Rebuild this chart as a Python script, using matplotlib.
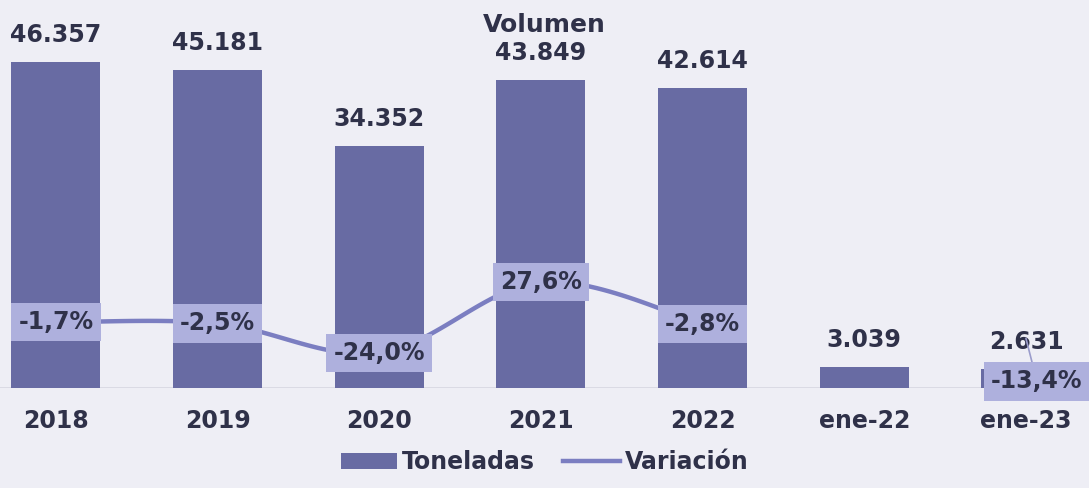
import numpy as np
import matplotlib.pyplot as plt
from matplotlib.patches import Patch
from matplotlib.lines import Line2D

categories = ["2018", "2019", "2020", "2021", "2022", "ene-22", "ene-23"]
toneladas = [46357, 45181, 34352, 43849, 42614, 3039, 2631]
variacion = [-1.7, -2.5, -24.0, 27.6, -2.8, np.nan, -13.4]

BG = "#EEEEF5"
BAR = "#686BA3"
LINE = "#7B7EC1"
BOX = "#AEB0DD"
TXT = "#2F3149"
FONT = "DejaVu Sans"


def fmt_int(v):
    return f"{v:,}".replace(",", ".")


def fmt_pct(v):
    return f"{v:.1f}%".replace(".", ",")


def smooth(xs, ys, n=30):
    # catmull-rom style curve like the smoothed line in the source chart
    xs = np.asarray(xs, float)
    ys = np.asarray(ys, float)
    px, py = [], []
    for i in range(len(xs) - 1):
        x0, y0 = (xs[i - 1], ys[i - 1]) if i > 0 else (xs[i], ys[i])
        x3, y3 = (xs[i + 2], ys[i + 2]) if i + 2 < len(xs) else (xs[i + 1], ys[i + 1])
        x1, y1, x2, y2 = xs[i], ys[i], xs[i + 1], ys[i + 1]
        c1 = (x1 + (x2 - x0) / 6, y1 + (y2 - y0) / 6)
        c2 = (x2 - (x3 - x1) / 6, y2 - (y3 - y1) / 6)
        t = np.linspace(0, 1, n)
        bx = (1 - t) ** 3 * x1 + 3 * (1 - t) ** 2 * t * c1[0] + 3 * (1 - t) * t ** 2 * c2[0] + t ** 3 * x2
        by = (1 - t) ** 3 * y1 + 3 * (1 - t) ** 2 * t * c1[1] + 3 * (1 - t) * t ** 2 * c2[1] + t ** 3 * y2
        px.extend(bx)
        py.extend(by)
    return px, py


fig = plt.figure(figsize=(10.89, 4.88), dpi=100, facecolor=BG)
ax = fig.add_axes([0, 0.205, 1, 0.795])
ax.set_facecolor(BG)
ax2 = ax.twinx()

x = np.arange(len(categories))
ax.bar(x, toneladas, width=0.55, color=BAR, zorder=2)
ax.set_xlim(-0.346, 6.39)
ax.set_ylim(0, 55170)
for xi, v in zip(x, toneladas):
    ax.annotate(fmt_int(v), (xi, v), xytext=(0, 15), textcoords="offset pixels",
                ha="center", va="bottom", fontsize=17, fontweight="bold",
                color=TXT, family=FONT, zorder=5)

ax.axhline(0, color="#D8D8E2", lw=2, zorder=1)
for s in ax.spines.values():
    s.set_visible(False)
for s in ax2.spines.values():
    s.set_visible(False)
ax.set_yticks([])
ax2.set_yticks([])
ax.set_xticks(x)
ax.set_xticklabels(categories, fontsize=17, fontweight="bold", color=TXT, family=FONT)
ax.tick_params(axis="x", length=0, pad=15)

# variation line, broken where there is no value
ax2.set_ylim(-49.4, 232.6)
ax2.set_xlim(ax.get_xlim())
var = np.array(variacion, float)
sx, sy = smooth(x[:5], var[:5])
ax2.plot(sx, sy, color=LINE, lw=3.2, zorder=3, solid_capstyle="round")

for xi, v in zip(x, variacion):
    if np.isnan(v):
        continue
    if xi == 6:
        ax2.annotate(fmt_pct(v), (xi, v), xytext=(11, -43), textcoords="offset pixels",
                     ha="center", va="center", fontsize=17, fontweight="bold",
                     color=TXT, family=FONT, zorder=6,
                     bbox=dict(boxstyle="square,pad=0.3", fc=BOX, ec="none"),
                     arrowprops=dict(arrowstyle="-", color="#9A9CCB", lw=1.2,
                                     shrinkA=0, shrinkB=0))
    else:
        ax2.annotate(fmt_pct(v), (xi, v), ha="center", va="center",
                     fontsize=17, fontweight="bold", color=TXT, family=FONT,
                     zorder=6, bbox=dict(boxstyle="square,pad=0.3", fc=BOX, ec="none"))

fig.text(0.5, 0.948, "Volumen", ha="center", va="center", fontsize=18,
         fontweight="bold", color=TXT, family=FONT)

handles = [Patch(facecolor=BAR, edgecolor="none"),
           Line2D([0], [0], color=LINE, lw=3.2)]
fig.legend(handles, ["Toneladas", "Variación"], loc="center", bbox_to_anchor=(0.5, 0.053),
           ncol=2, frameon=False, handlelength=2.4, handletextpad=0.2, columnspacing=1.2,
           prop=dict(family=FONT, weight="bold", size=17), labelcolor=TXT)

fig.savefig("out.png", dpi=100, facecolor=BG)
